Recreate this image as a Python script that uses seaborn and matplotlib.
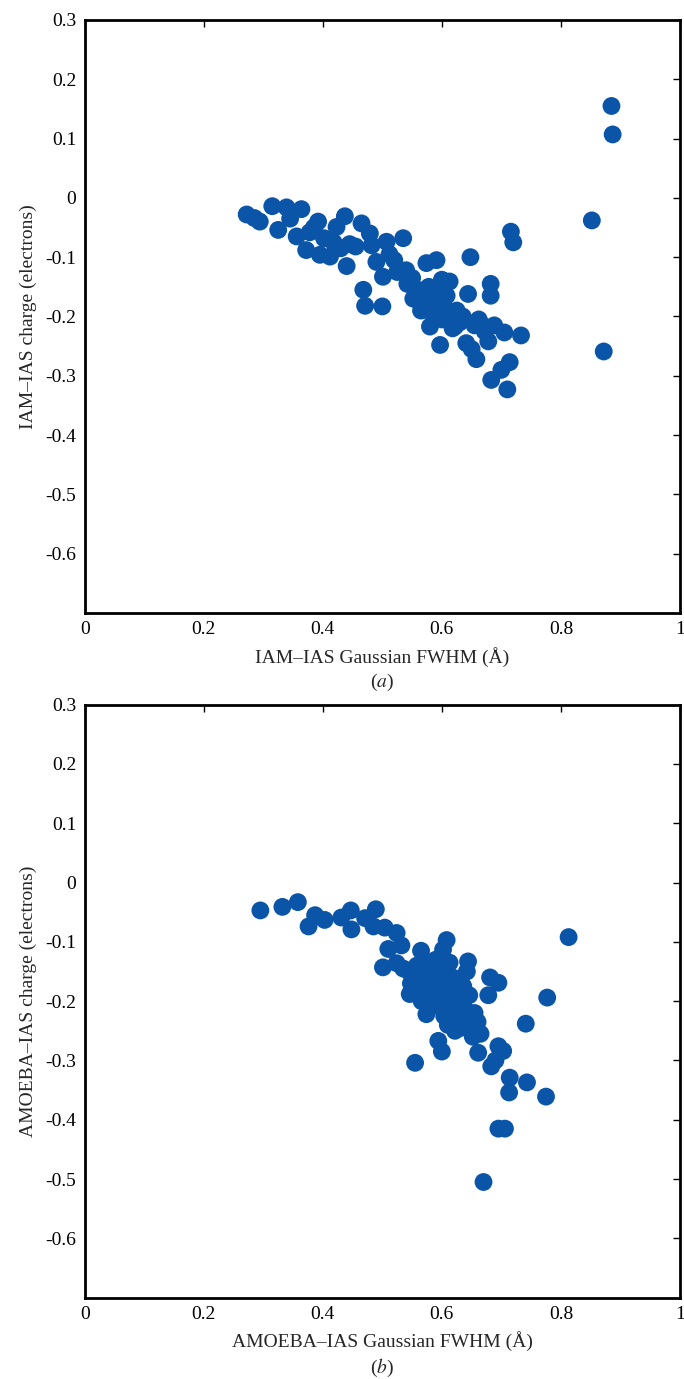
import numpy as np
import pandas as pd
import seaborn as sns
import matplotlib.pyplot as plt
from matplotlib.ticker import FuncFormatter

# Panel (a): IAM-IAS
iam_fwhm = [0.272, 0.285, 0.294, 0.315, 0.325, 0.339, 0.345, 0.356, 0.364, 0.372,
            0.378, 0.385, 0.392, 0.395, 0.402, 0.412, 0.418, 0.423, 0.430, 0.437,
            0.440, 0.445, 0.455, 0.465, 0.468, 0.471, 0.479, 0.482, 0.490, 0.500,
            0.501, 0.507, 0.512, 0.520, 0.525, 0.535, 0.540, 0.542, 0.550, 0.552,
            0.560, 0.565, 0.568, 0.572, 0.574, 0.578, 0.580, 0.585, 0.588, 0.591,
            0.594, 0.597, 0.600, 0.600, 0.604, 0.608, 0.613, 0.615, 0.618, 0.622,
            0.625, 0.630, 0.635, 0.641, 0.644, 0.648, 0.650, 0.655, 0.658, 0.662,
            0.668, 0.672, 0.678, 0.682, 0.682, 0.688, 0.683, 0.700, 0.705, 0.710,
            0.714, 0.716, 0.720, 0.733, 0.852, 0.872, 0.885, 0.887]
iam_charge = [-0.028, -0.034, -0.040, -0.014, -0.054, -0.016, -0.035, -0.065, -0.019, -0.088,
              -0.058, -0.050, -0.040, -0.096, -0.068, -0.099, -0.075, -0.049, -0.085, -0.031,
              -0.115, -0.078, -0.082, -0.043, -0.155, -0.182, -0.060, -0.080, -0.108, -0.183,
              -0.133, -0.074, -0.095, -0.105, -0.125, -0.068, -0.122, -0.145, -0.135, -0.170,
              -0.155, -0.190, -0.189, -0.170, -0.110, -0.150, -0.217, -0.195, -0.175, -0.105,
              -0.160, -0.248, -0.138, -0.205, -0.185, -0.165, -0.141, -0.200, -0.220, -0.217,
              -0.190, -0.210, -0.200, -0.245, -0.162, -0.100, -0.255, -0.215, -0.272, -0.205,
              -0.215, -0.225, -0.242, -0.145, -0.165, -0.215, -0.307, -0.290, -0.227, -0.323,
              -0.277, -0.057, -0.075, -0.232, -0.038, -0.259, 0.155, 0.107]

# Panel (b): AMOEBA-IAS
amoeba_fwhm = [0.295, 0.332, 0.358, 0.376, 0.387, 0.403, 0.431, 0.447, 0.448, 0.471,
               0.485, 0.489, 0.504, 0.510, 0.501, 0.524, 0.524, 0.532, 0.535, 0.545,
               0.548, 0.546, 0.552, 0.555, 0.558, 0.562, 0.565, 0.566, 0.570, 0.572,
               0.574, 0.576, 0.578, 0.580, 0.582, 0.585, 0.588, 0.590, 0.592, 0.594,
               0.595, 0.598, 0.600, 0.600, 0.602, 0.604, 0.606, 0.608, 0.608, 0.610,
               0.613, 0.615, 0.618, 0.620, 0.622, 0.625, 0.628, 0.630, 0.632, 0.636,
               0.640, 0.642, 0.644, 0.646, 0.650, 0.652, 0.655, 0.660, 0.661, 0.665,
               0.670, 0.678, 0.681, 0.683, 0.690, 0.695, 0.695, 0.695, 0.703, 0.706,
               0.713, 0.714, 0.741, 0.743, 0.775, 0.777, 0.813]
amoeba_charge = [-0.047, -0.041, -0.033, -0.074, -0.055, -0.063, -0.059, -0.047, -0.079, -0.060,
                 -0.074, -0.045, -0.076, -0.112, -0.143, -0.085, -0.136, -0.106, -0.145, -0.150,
                 -0.170, -0.188, -0.160, -0.304, -0.140, -0.175, -0.115, -0.200, -0.155, -0.185,
                 -0.222, -0.135, -0.165, -0.210, -0.150, -0.190, -0.175, -0.130, -0.205, -0.267,
                 -0.160, -0.180, -0.285, -0.145, -0.113, -0.225, -0.195, -0.097, -0.170, -0.240,
                 -0.135, -0.210, -0.160, -0.185, -0.250, -0.230, -0.165, -0.200, -0.245, -0.175,
                 -0.215, -0.150, -0.133, -0.190, -0.240, -0.260, -0.220, -0.235, -0.287, -0.255,
                 -0.505, -0.190, -0.160, -0.310, -0.300, -0.169, -0.276, -0.415, -0.284, -0.415,
                 -0.354, -0.329, -0.238, -0.337, -0.361, -0.194, -0.092]

panels = [
    (iam_fwhm, iam_charge, 'IAM\u2013IAS Gaussian FWHM (\u00c5)', 'IAM\u2013IAS charge (electrons)', 'a'),
    (amoeba_fwhm, amoeba_charge, 'AMOEBA\u2013IAS Gaussian FWHM (\u00c5)', 'AMOEBA\u2013IAS charge (electrons)', 'b'),
]

sns.set_style('white')
plt.rcParams['font.family'] = ['Liberation Serif', 'DejaVu Serif']
plt.rcParams['mathtext.fontset'] = 'stix'

fig = plt.figure(figsize=(6.84, 13.79), dpi=100)
axes = [fig.add_axes([0.124, 0.5555, 0.870, 0.430]),
        fig.add_axes([0.124, 0.0590, 0.870, 0.430])]


def tick_fmt(v, pos):
    v = round(v, 2)
    if abs(v) < 1e-9:
        return '0'
    return '%g' % v


fmt = FuncFormatter(tick_fmt)

for ax, (xs, ys, xlab, ylab, tag) in zip(axes, panels):
    df = pd.DataFrame({'x': xs, 'y': ys})
    sns.scatterplot(data=df, x='x', y='y', ax=ax, color='#0b55a8',
                    s=165, edgecolor='none', linewidth=0, legend=False)
    ax.set_xlim(0, 1)
    ax.set_ylim(-0.7, 0.3)
    ax.set_xticks(np.arange(0, 1.01, 0.2))
    ax.set_yticks(np.round(np.arange(-0.6, 0.31, 0.1), 1))
    ax.xaxis.set_major_formatter(fmt)
    ax.yaxis.set_major_formatter(fmt)
    ax.tick_params(direction='in', length=5, width=1, top=True, right=True,
                   labelsize=14, pad=6, colors='black')
    for sp in ax.spines.values():
        sp.set_linewidth(2.0)
        sp.set_color('black')
    ax.set_xlabel(xlab, fontsize=14, labelpad=6)
    ax.set_ylabel(ylab, fontsize=14, labelpad=6)
    ax.text(0.5, -0.118, '(' + r'$\it{' + tag + '}$' + ')', transform=ax.transAxes,
            ha='center', va='center', fontsize=14)

fig.savefig('out.png', dpi=100)
